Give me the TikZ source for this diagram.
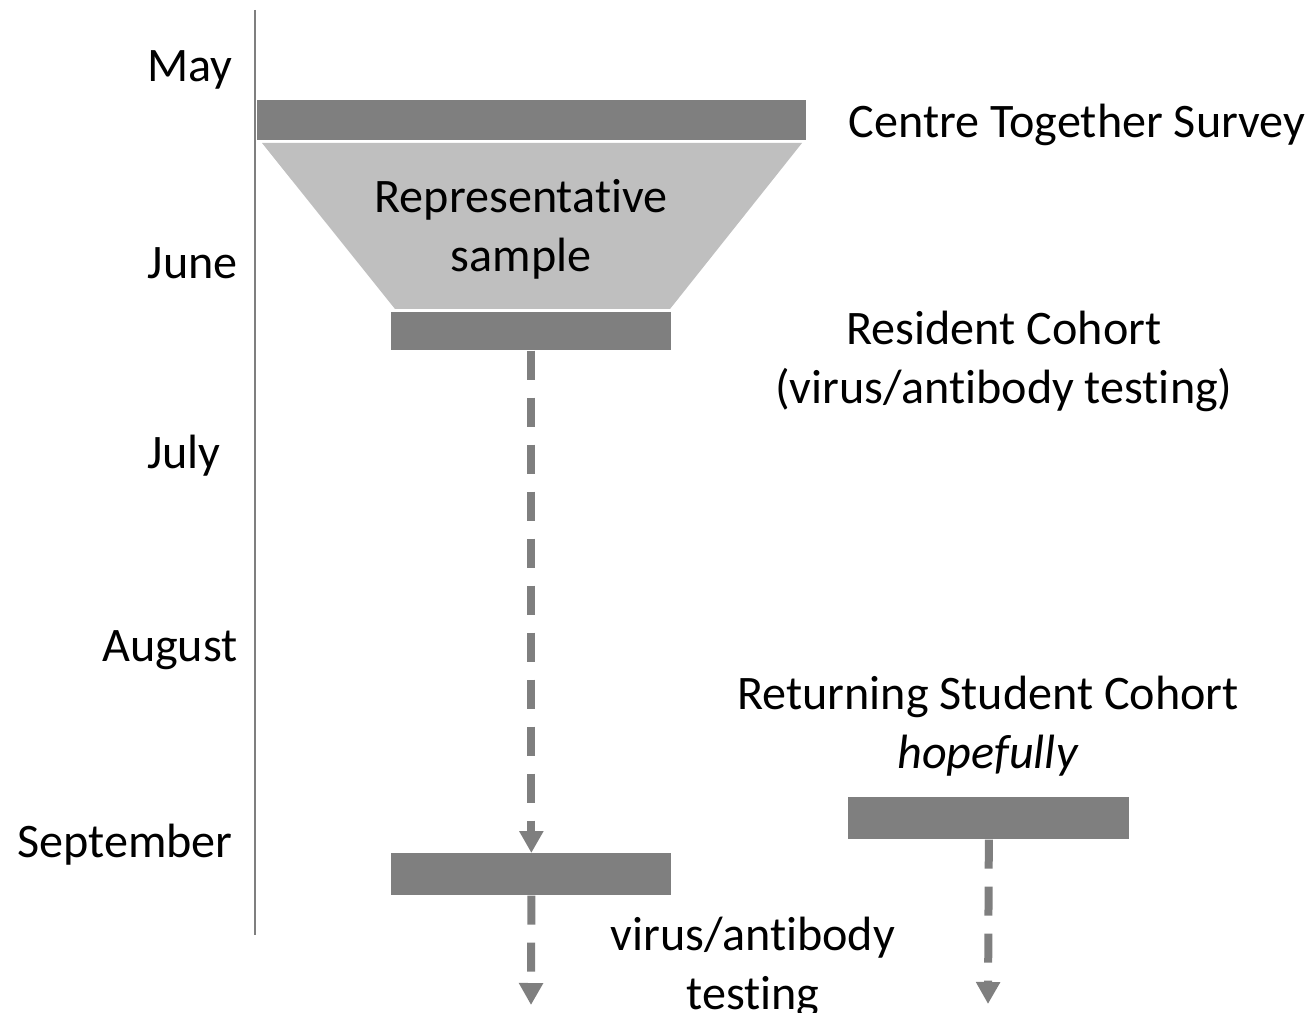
\documentclass[tikz,border=0pt]{standalone}
\usepackage{fontspec}
\setmainfont{Carlito}[Ligatures={NoCommon}]
\usetikzlibrary{arrows.meta}
\definecolor{darkbar}{HTML}{7F7F7F}
\definecolor{lightfun}{HTML}{BFBFBF}
\begin{document}
\begin{tikzpicture}[x=0.02cm,y=-0.02cm,
  lab/.style={font=\fontsize{27.4}{33.5}\selectfont, inner sep=0pt, align=center},
  month/.style={lab, anchor=east},
  bar/.style={fill=darkbar, draw=none, inner sep=0pt, anchor=north west},
  dasharrow/.style={draw=darkbar, line width=0.16cm, dash pattern=on 0.58cm off 0.36cm,
    -{Triangle[width=0.46cm,length=0.44cm]}}
]
\useasboundingbox (0,0) rectangle (1312,1013);
% axis
\draw[darkbar, line width=0.8pt] (255,10) -- (255,935);
% months
\node[month] (may) at (233,70) {May};
\node[month] (jun) at (238,263) {June};
\node[month] (jul) at (221,456) {July};
\node[month] (aug) at (238,650) {August};
\node[month] (sep) at (233,845) {September};
% bars
\node[bar, minimum width=549*0.02cm, minimum height=40*0.02cm] (cts) at (257,100) {};
\fill[lightfun] (262,143) -- (802,143) -- (670,309) -- (395,309) -- cycle;
\node[lab] (rep) at (521,229) {Representative\\sample};
\node[bar, minimum width=280*0.02cm, minimum height=38*0.02cm] (res) at (391,312) {};
\node[bar, minimum width=280*0.02cm, minimum height=42*0.02cm] (sepbar) at (391,853) {};
\node[bar, minimum width=281*0.02cm, minimum height=42*0.02cm] (ret) at (848,797) {};
% labels
\node[lab] (ctsl) at (1077,125) {Centre Together Survey};
\node[lab] (resl) at (1004,361) {Resident Cohort\\(virus/antibody testing)};
\node[lab] (retl) at (988,726) {Returning Student Cohort\\\textit{hopefully}};
\node[lab] (vat) at (753,967) {virus/antibody\\testing};
% connectors
\coordinate (end1) at (531,1005);
\coordinate (end2) at (988,1004);
\draw[dasharrow] (res.south) -- (sepbar.north);
\draw[dasharrow] (sepbar.south) -- (end1);
\draw[dasharrow] (ret.south) -- (end2);
\end{tikzpicture}
\end{document}
